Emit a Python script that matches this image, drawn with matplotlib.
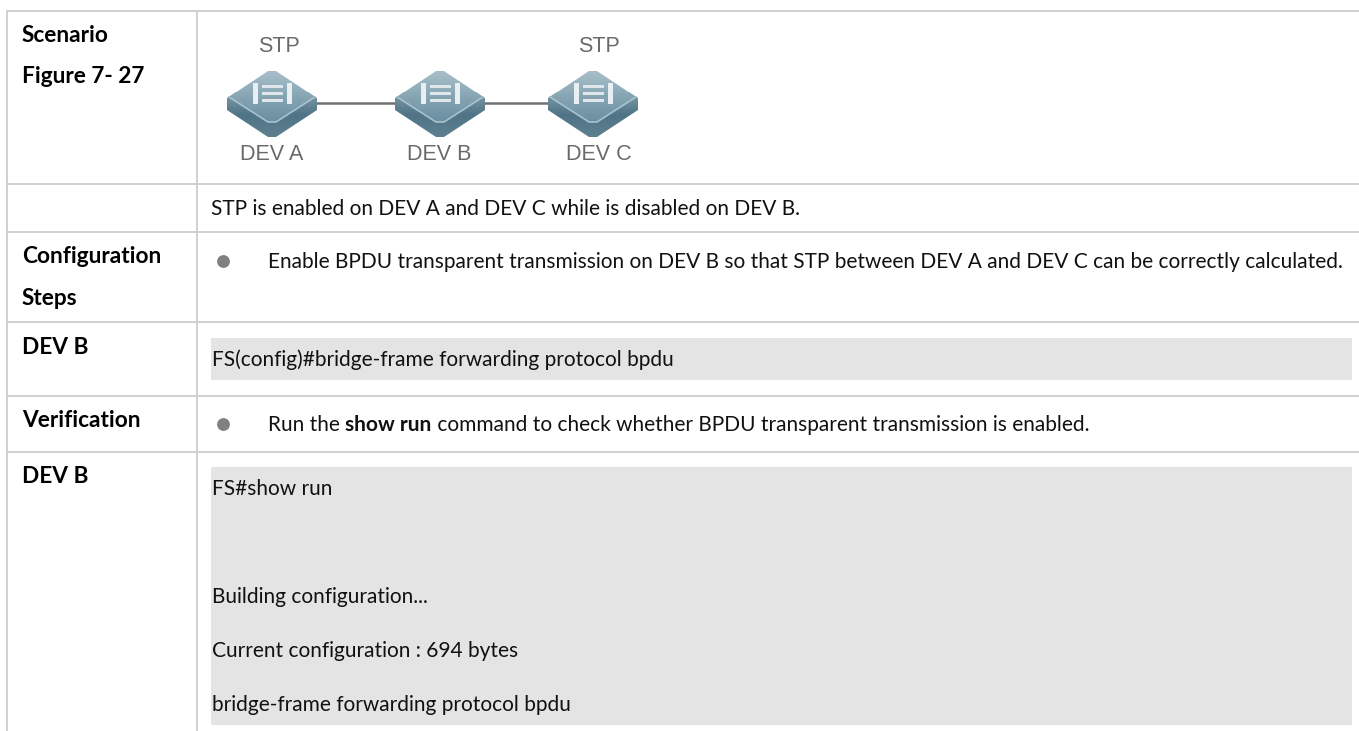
import numpy as np
import matplotlib
matplotlib.use("Agg")
import matplotlib.pyplot as plt
from matplotlib.colors import LinearSegmentedColormap
from matplotlib.patches import Polygon, Rectangle

plt.rcParams['font.family'] = ['Lato', 'DejaVu Sans']

# table layout, in pixels
row_lines = [11, 184, 232, 322, 396, 452]
col_lines = [7, 197]
grey_boxes = [(211, 338, 1352, 380), (211, 467, 1352, 725)]

# text with its baseline
left_labels = [("Scenario", 42), ("Figure 7- 27", 83), ("Configuration", 263), ("Steps", 305),
               ("DEV B", 354), ("Verification", 427), ("DEV B", 483)]
plain_labels = [("STP is enabled on DEV A and DEV C while is disabled on DEV B.", 211, 215),
                ("Enable BPDU transparent transmission on DEV B so that STP between DEV A and DEV C can be correctly calculated.", 268, 268),
                ("FS(config)#bridge-frame forwarding protocol bpdu", 212, 366),
                ("FS#show run", 212, 495),
                ("Building configuration...", 212, 603),
                ("Current configuration : 694 bytes", 212, 657),
                ("bridge-frame forwarding protocol bpdu", 212, 711)]
bullets_y = [261, 424]

switch_x = [272, 440, 593]
switch_names = ["DEV A", "DEV B", "DEV C"]
name_x = [272, 439, 599]
stp_x = [279, 599]

fig = plt.figure(figsize=(13.59, 7.31), dpi=100)
ax = fig.add_axes([0, 0, 1, 1])
ax.axis('off')

for x0, y0, x1, y1 in grey_boxes:
    ax.add_patch(Rectangle((x0, y0), x1 - x0, y1 - y0, color='#e4e4e4', lw=0))

for y in row_lines:
    ax.plot([col_lines[0], 1359], [y, y], color='#cdcdcd', lw=1.3)
for x in col_lines:
    ax.plot([x, x], [row_lines[0], 731], color='#cdcdcd', lw=1.3)

for txt, y in left_labels:
    ax.text(22, y, txt, fontsize=16.3, fontweight='bold', va='baseline', color='black')
for txt, x, y in plain_labels:
    ax.text(x, y, txt, fontsize=15, va='baseline', color='#111111')

ax.scatter([223] * len(bullets_y), bullets_y, s=85, color='#808080', lw=0)

# network diagram
top_cmap = LinearSegmentedColormap.from_list("top", ['#a9c0ca', '#86a5b3', '#6a8fa1'])
side_cmap = LinearSegmentedColormap.from_list("side", ['#7f9cab', '#4f7485', '#5f8192'])
ax.plot([switch_x[0], switch_x[2]], [103, 103], color='#6f7174', lw=1.8, zorder=1)
grad = np.linspace(0, 1, 64).reshape(-1, 1)
for sx, name, nx in zip(switch_x, switch_names, name_x):
    side = Polygon([(sx - 45, 98), (sx - 4, 71), (sx + 4, 71), (sx + 45, 98), (sx + 45, 110), (sx + 4, 137),
                    (sx - 4, 137), (sx - 45, 110)], transform=ax.transData, lw=0)
    im = ax.imshow(grad, extent=(sx - 45, sx + 45, 138, 92), cmap=side_cmap, aspect='auto', zorder=2)
    im.set_clip_path(side)
    top = Polygon([(sx - 43, 97), (sx - 4, 71), (sx + 4, 71), (sx + 43, 97), (sx + 4, 122), (sx - 4, 122)],
                  transform=ax.transData, lw=0)
    im = ax.imshow(grad, extent=(sx - 45, sx + 45, 123, 70), cmap=top_cmap, aspect='auto', zorder=3)
    im.set_clip_path(top)
    # light edge round the lower side of the top face
    ax.plot([sx - 43, sx - 4, sx + 4, sx + 43], [97, 122, 122, 97], color='#a9c2cd', lw=1.2, zorder=3)
    ax.add_patch(Rectangle((sx - 19, 83), 5, 21, color='#e8eef1', lw=0, zorder=4))
    ax.add_patch(Rectangle((sx + 15, 83), 5, 21, color='#e8eef1', lw=0, zorder=4))
    for dy in [85, 92, 99]:
        ax.add_patch(Rectangle((sx - 10, dy), 21, 3, color='#dfe7ea', lw=0, zorder=4))
    ax.text(nx, 160, name, fontsize=15.5, ha='center', va='baseline', color='#6a6a6a',
            family=['Liberation Sans', 'DejaVu Sans'])
for sx in stp_x:
    ax.text(sx, 52, "STP", fontsize=15.5, ha='center', va='baseline', color='#6a6a6a',
            family=['Liberation Sans', 'DejaVu Sans'])

ax.set_xlim(0, 1359)
ax.set_ylim(731, 0)

# mixed weight line
fig.canvas.draw()
rend = fig.canvas.get_renderer()
x = 268
for txt, wt in [("Run the ", 'normal'), ("show run", 'bold'),
                (" command to check whether BPDU transparent transmission is enabled.", 'normal')]:
    t = ax.text(x, 431, txt.replace(" ", "\u00a0"), fontsize=15, fontweight=wt, va='baseline', color='#111111')
    x = ax.transData.inverted().transform(t.get_window_extent(rend))[1][0]

fig.savefig("out.png", dpi=100)
